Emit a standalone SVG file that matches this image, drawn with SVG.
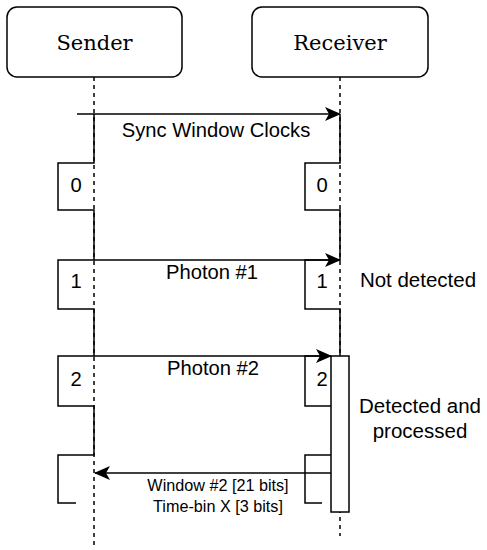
<svg xmlns="http://www.w3.org/2000/svg" width="487" height="550" viewBox="0 0 487 550">
<style>
.box{fill:#fff;stroke:#000;stroke-width:1.5}
.life{fill:none;stroke:#000;stroke-width:1.5;stroke-dasharray:4 4}
.wave{fill:none;stroke:#000;stroke-width:1.5}
.msg{fill:none;stroke:#000;stroke-width:1.5}
.serif{font-family:"DejaVu Serif",serif;font-size:21px;fill:#000;text-anchor:middle}
.sans{font-family:"Liberation Sans",Arial,sans-serif;font-size:20.2px;fill:#000;text-anchor:middle}
.small{font-family:"Liberation Sans",Arial,sans-serif;font-size:16.2px;fill:#000;text-anchor:middle}
.note{font-family:"Liberation Sans",Arial,sans-serif;font-size:20.5px;fill:#000;text-anchor:middle}
</style>
<defs>
<marker id="arr" viewBox="0 0 16 14" refX="15" refY="7" markerWidth="16" markerHeight="14" markerUnits="userSpaceOnUse" orient="auto">
<path d="M16,7 L0,0 L4,7 L0,14 Z" fill="#000"/>
</marker>
</defs>
<rect width="487" height="550" fill="#fff"/>
<g id="sender">
<rect class="box" x="7" y="7" width="175" height="70" rx="10"/>
<text class="serif" x="94.5" y="50">Sender</text>
<line class="life" x1="94" y1="77" x2="94" y2="546"/>
<path class="wave" d="M94,114 V163 H58 V210 H94 V260 H58 V309 H94 V356 H58 V406 H94 V455 H58 V503 H76"/>
<text class="sans" x="76" y="192">0</text>
<text class="sans" x="76" y="288">1</text>
<text class="sans" x="76" y="386">2</text>
</g>
<g id="receiver">
<rect class="box" x="252" y="7" width="176" height="70" rx="10"/>
<text class="serif" x="340" y="50">Receiver</text>
<line class="life" x1="340" y1="77" x2="340" y2="536"/>
<path class="wave" d="M340,114 V163 H305 V210 H340 V260 H305 V309 H340 V356"/>
<path class="wave" d="M331,356 H305 V406 H331"/>
<path class="wave" d="M331,455 H305 V503 H322"/>
<rect class="box" x="331" y="356" width="18" height="156"/>
<text class="sans" x="322" y="192">0</text>
<text class="sans" x="322" y="288">1</text>
<text class="sans" x="322" y="386">2</text>
</g>
<g id="connectors">
<line class="msg" x1="77" y1="114" x2="340" y2="114" marker-end="url(#arr)"/>
<text class="sans" x="216" y="137">Sync Window Clocks</text>
<line class="msg" x1="94" y1="260" x2="340" y2="260" marker-end="url(#arr)"/>
<text class="sans" x="212" y="279">Photon #1</text>
<line class="msg" x1="94" y1="356" x2="331" y2="356" marker-end="url(#arr)"/>
<text class="sans" x="213" y="375">Photon #2</text>
<line class="msg" x1="331" y1="473" x2="95" y2="473" marker-end="url(#arr)"/>
<text class="small" x="218" y="491">Window #2 [21 bits]</text>
<text class="small" x="218" y="512">Time-bin X [3 bits]</text>
</g>
<g id="notes">
<text class="note" x="418" y="287">Not detected</text>
<text class="note" x="420" y="413">Detected and</text>
<text class="note" x="420" y="438">processed</text>
</g>
</svg>
